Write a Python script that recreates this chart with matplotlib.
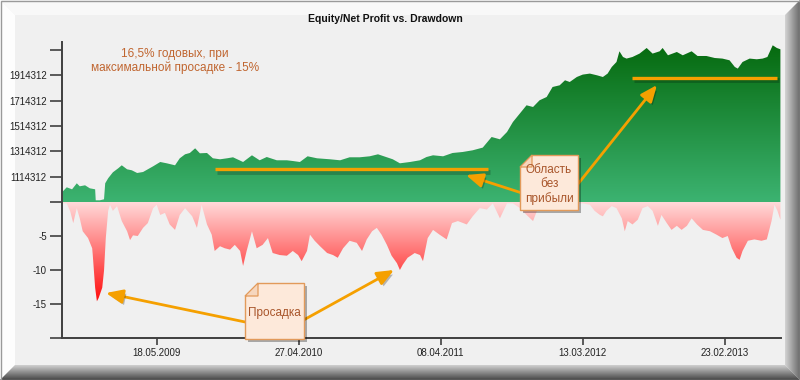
import numpy as np
import matplotlib
matplotlib.use('Agg')
import matplotlib.pyplot as plt
import matplotlib.patheffects as pe
from matplotlib.patches import Polygon, Rectangle, Patch
from matplotlib.colors import LinearSegmentedColormap

plt.rcParams['font.family'] = ['Liberation Sans', 'DejaVu Sans']

# equity curve (bar index, value)
eq_bar = [0, 8, 17, 25, 30, 39, 47, 56, 57, 64,
          71, 73, 78, 86, 95, 101, 110, 118, 127, 137,
          145, 154, 166, 177, 191, 199, 208, 216, 225, 233,
          245, 255, 267, 279, 289, 306, 321, 334, 346, 363,
          380, 390, 402, 415, 431, 453, 470, 486, 503, 520,
          534, 549, 559, 571, 588, 605, 616, 627, 644, 660,
          677, 694, 711, 726, 740, 752, 762, 774, 785, 796,
          807, 819, 829, 841, 850, 858, 870, 880, 892, 904,
          914, 922, 929, 937, 942, 948, 954, 964, 976, 988,
          998, 1010, 1015, 1024, 1039, 1049, 1064, 1074, 1089, 1103,
          1116, 1128, 1137, 1142, 1150, 1162, 1174, 1184, 1192, 1201,
          1208, 1214]
eq_val = [991000, 1030500, 1014700, 1062100, 1038400, 1046300, 1022600, 1014700, 927800, 927800,
          935700, 1062100, 1101700, 1149100, 1180700, 1204400, 1172800, 1164900, 1143600, 1151500,
          1172800, 1196500, 1230500, 1220200, 1204400, 1259800, 1291400, 1301700, 1338800, 1299300,
          1301700, 1259800, 1251900, 1259800, 1267700, 1230500, 1283500, 1244000, 1270000, 1244000,
          1244000, 1238400, 1230500, 1275600, 1259800, 1251900, 1244000, 1267700, 1267700, 1275600,
          1291400, 1267700, 1251900, 1220200, 1230500, 1244000, 1270000, 1283500, 1275600, 1301700,
          1309600, 1323000, 1344300, 1428100, 1410000, 1467700, 1546700, 1615500, 1678700, 1665300,
          1718300, 1744300, 1823400, 1836800, 1876400, 1862900, 1902400, 1921400, 1929300, 1915900,
          1902400, 1929300, 1981500, 2021000, 2105600, 2060500, 2047900, 2060500, 2087400, 2131700,
          2087400, 2105600, 2131700, 2074000, 2100100, 2074000, 2105600, 2068400, 2068400, 2052600,
          2047900, 2034500, 1981500, 1968800, 2021000, 2047900, 2042400, 2047900, 2060500, 2153000,
          2131700, 2121400]

# drawdown, percent
dd_bar = [0, 8, 14, 19, 25, 30, 35, 44, 51, 52,
          56, 59, 62, 68, 71, 74, 78, 81, 86, 93,
          101, 110, 115, 120, 128, 137, 145, 154, 160, 166,
          174, 182, 191, 199, 208, 220, 228, 236, 245, 253,
          258, 267, 275, 284, 292, 301, 306, 312, 321, 329,
          339, 348, 356, 368, 380, 390, 399, 405, 414, 419,
          427, 436, 448, 458, 466, 475, 486, 498, 507, 515,
          524, 532, 540, 549, 557, 566, 571, 576, 584, 596,
          605, 610, 618, 627, 638, 650, 659, 669, 684, 694,
          706, 718, 728, 740, 752, 762, 774, 785, 796, 807,
          819, 829, 841, 858, 870, 880, 892, 900, 909, 914,
          920, 929, 937, 946, 951, 956, 964, 973, 981, 990,
          998, 1007, 1013, 1022, 1030, 1039, 1047, 1056, 1064, 1073,
          1083, 1095, 1106, 1116, 1125, 1132, 1140, 1145, 1150, 1159,
          1170, 1182, 1191, 1199, 1204, 1209, 1214]
dd_val = [-0.2, -0.2, -1.4, -3.1, -0.9, -2.4, -4.3, -5.3, -6.8, -7.8,
          -12.6, -14.6, -14.1, -12.6, -10.1, -5.3, -1.3, -0.4, -1.3, -0.6,
          -2.8, -4.3, -5.6, -4.9, -5.0, -3.8, -3.1, -0.9, -0.4, -1.9,
          -1.6, -3.3, -4.1, -1.9, -0.9, -2.1, -3.8, -0.4, -3.3, -4.8,
          -7.2, -6.5, -6.8, -7.0, -6.3, -7.2, -9.4, -7.2, -4.3, -6.8,
          -6.3, -5.3, -7.5, -7.8, -7.9, -7.2, -7.8, -8.7, -7.2, -4.8,
          -5.7, -6.5, -7.5, -7.8, -8.2, -6.8, -5.7, -6.0, -7.2, -5.5,
          -4.3, -3.8, -4.8, -6.3, -7.9, -9.0, -10.0, -9.2, -8.2, -7.5,
          -7.8, -8.7, -5.3, -4.1, -4.8, -5.5, -3.1, -2.8, -3.3, -2.1,
          -0.9, -1.1, -0.2, -2.4, -0.2, -0.2, -0.9, -1.9, -2.8, -0.3,
          -0.6, -0.3, -0.9, -0.3, -0.2, -0.2, -0.4, -1.3, -1.9, -2.1,
          -1.3, -0.6, -0.9, -2.4, -4.3, -2.8, -3.3, -2.6, -0.9, -0.6,
          -1.3, -3.5, -1.9, -3.1, -4.1, -3.5, -4.1, -3.5, -2.4, -3.3,
          -4.1, -4.3, -4.8, -5.3, -5.0, -6.8, -8.2, -8.5, -7.2, -5.7,
          -5.5, -5.7, -5.5, -2.8, -0.4, -1.3, -2.6]

tick_bars = [160, 400, 640, 880, 1120]
tick_labels = ['18.05.2009', '27.04.2010', '08.04.2011', '13.03.2012', '23.02.2013']
eq_ticks = [914312, 1114312, 1314312, 1514312, 1714312, 1914312, 2114312]
dd_ticks = [0, -5, -10, -15, -20]
base = 914312
# flat (no profit) periods: start bar, end bar, level
flat_periods = [(258, 720, 1172800), (963, 1208, 1897700)]

W, H = 800, 380
ORANGE = '#f5a000'
BROWN = '#a8552a'

fig = plt.figure(figsize=(8, 3.8), dpi=100)
fig.patch.set_facecolor('#f0f0f0')


def grad_image(ax, extent, colors, clip, horizontal=False):
    cmap = LinearSegmentedColormap.from_list('g', colors)
    g = np.linspace(0, 1, 256)
    g = g.reshape(1, -1) if horizontal else g.reshape(-1, 1)
    im = ax.imshow(g, extent=extent, origin='lower', aspect='auto', cmap=cmap,
                   interpolation='bilinear', zorder=1)
    if isinstance(clip, Patch):
        im.set_clip_path(clip)
    else:
        im.set_clip_path(clip, transform=ax.transData)
    return im


# frame / bevel
bg = fig.add_axes([0, 0, 1, 1], zorder=0)
bg.add_patch(Polygon([(0, 0), (W, 0), (785, 15), (15, 15)], closed=True, fc='#f8f8f8', ec='none'))
bg.add_patch(Polygon([(0, 0), (15, 15), (15, 365), (0, H)], closed=True, fc='#fdfdfd', ec='none'))
right = Polygon([(785, 15), (W, 0), (W, H), (785, 365)], closed=True, fc='none', ec='none')
bg.add_patch(right)
grad_image(bg, [785, W, H, 0], ['#d4d4d4', '#6a6a6a'], right, horizontal=True)
bottom = Polygon([(0, H), (15, 365), (785, 365), (W, H)], closed=True, fc='none', ec='none')
bg.add_patch(bottom)
grad_image(bg, [0, W, H, 365], ['#454545', '#d0d0d0'], bottom)
bg.add_patch(Rectangle((15, 15), 770, 350, fc='#f0f0f0', ec='none', zorder=2))
bg.add_patch(Rectangle((0.5, 0.5), W - 1, H - 1, fc='none', ec='#9a9a9a', lw=1, zorder=3))
bg.set_xlim(0, W)
bg.set_ylim(H, 0)
bg.axis('off')

# equity and drawdown axes
ax_eq = fig.add_axes([62 / W, 1 - 202 / H, (781 - 62) / W, 160 / H], zorder=2)
ax_dd = fig.add_axes([62 / W, 1 - 338 / H, (781 - 62) / W, 136 / H], zorder=2)
for ax in (ax_eq, ax_dd):
    ax.set_facecolor('none')
    for s in ('top', 'right'):
        ax.spines[s].set_visible(False)
    ax.spines['left'].set_color('#404040')
    ax.spines['left'].set_linewidth(1.4)
ax_eq.spines['bottom'].set_visible(False)
ax_dd.spines['bottom'].set_color('#404040')
ax_dd.spines['bottom'].set_linewidth(1.4)

eq_top = 2179000
poly = ax_eq.fill_between(eq_bar, base, eq_val, facecolor='none', edgecolor='none')
grad_image(ax_eq, [eq_bar[0], eq_bar[-1], base, eq_top], ['#3cb371', '#05690d'],
           poly.get_paths()[0])
ax_eq.set_xlim(0, 1215)
ax_eq.set_ylim(base, eq_top)

poly = ax_dd.fill_between(dd_bar, 0, dd_val, facecolor='none', edgecolor='none')
grad_image(ax_dd, [dd_bar[0], dd_bar[-1], -15.5, 0], ['#ff0000', '#ffdcdc'],
           poly.get_paths()[0])
ax_dd.set_xlim(0, 1215)
ax_dd.set_ylim(-20, 0)

ax_eq.set_xticks([])
ax_eq.set_yticks(eq_ticks[1:], [str(v) for v in eq_ticks[1:-1]] + [''])
ax_dd.set_yticks(dd_ticks, ['', '-5', '-10', '-15', ''])
ax_dd.set_xticks(tick_bars, tick_labels)
for ax in (ax_eq, ax_dd):
    ax.tick_params(axis='y', direction='out', length=9, width=1.2, color='#404040',
                   labelsize=7, labelcolor='#222222', pad=2)
ax_dd.tick_params(axis='x', direction='out', length=5, width=1.2, color='#404040',
                  labelsize=7, labelcolor='#222222', pad=2)

line_fx = [pe.SimpleLineShadow(offset=(1.5, -2), shadow_color='black', alpha=0.2, rho=0.3,
                               linewidth=3.5), pe.Normal()]
for x0, x1, lvl in flat_periods:
    ax_eq.plot([x0, x1], [lvl, lvl], color=ORANGE, lw=2.4, solid_capstyle='butt',
               zorder=5, path_effects=line_fx)

# annotations overlay
fg = fig.add_axes([0, 0, 1, 1], zorder=5)
fg.set_facecolor('none')
fg.set_xlim(0, W)
fg.set_ylim(H, 0)
fg.axis('off')

arrows = [((525, 194), (466, 175)), ((578, 184), (657, 85)),
          ((250, 323), (106, 293)), ((300, 322), (394, 270))]
for tail, head in arrows:
    a = fg.annotate('', xy=head, xytext=tail,
                    arrowprops=dict(arrowstyle='-|>,head_length=1.0,head_width=0.42',
                                    color=ORANGE, lw=2, mutation_scale=10,
                                    shrinkA=0, shrinkB=0))
    a.arrow_patch.set_path_effects([pe.SimplePatchShadow(offset=(1.5, -2), shadow_rgbFace='black',
                                                         alpha=0.25), pe.Normal()])


def note(x0, y0, x1, y1, fold, text, ls):
    body = Polygon([(x0 + fold, y0), (x1, y0), (x1, y1), (x0, y1), (x0, y0 + fold)],
                   closed=True, fc='#fde9da', ec='#e29a5a', lw=1, zorder=6)
    body.set_path_effects([pe.SimplePatchShadow(offset=(2.5, -2.5), shadow_rgbFace='black',
                                                alpha=0.3), pe.Normal()])
    fg.add_patch(body)
    fg.add_patch(Polygon([(x0, y0 + fold), (x0 + fold, y0), (x0 + fold, y0 + fold)],
                         closed=True, fc='#f6d6bd', ec='#e29a5a', lw=0.9, zorder=7))
    fg.text((x0 + x1) / 2, (y0 + y1) / 2 + 2, text, ha='center', va='center', color=BROWN,
            fontsize=8.5, linespacing=ls, zorder=8)


note(520, 155, 578, 210, 12, 'Область\nбез\nприбыли', 1.2)
note(245, 283, 304, 339, 13, 'Просадка', 1.0)

fg.text(175, 61, '16,5% годовых, при\nмаксимальной просадке - 15%', ha='center', va='center',
        color='#c0652f', fontsize=8.5, linespacing=1.25)
fg.text(385, 19, 'Equity/Net Profit vs. Drawdown', ha='center', va='center',
        fontsize=7.5, fontweight='bold', color='#111111')

fig.savefig('out.png', dpi=100)
